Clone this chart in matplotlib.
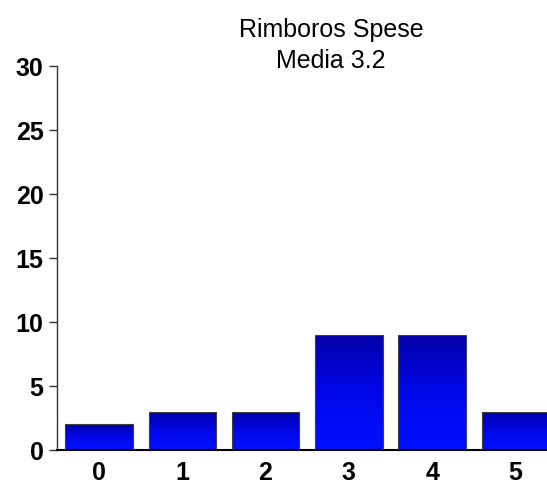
#!/usr/bin/env python3

import matplotlib
matplotlib.use("Agg")
import matplotlib.pyplot as plt
import numpy as np
from matplotlib.colors import LinearSegmentedColormap


categories = ["0", "1", "2", "3", "4", "5"]
counts = [2, 3, 3, 9, 9, 3]
y_ticks = [0, 5, 10, 15, 20, 25, 30]
title_lines = ["Rimboros Spese", "Media 3.2"]


def main():
	plt.rcParams['font.family'] = ['Liberation Sans', 'DejaVu Sans']

	fig = plt.figure(figsize=(5.47, 4.84), dpi=100)
	fig.patch.set_facecolor("white")

	ax = fig.add_axes([0.1037, 0.0702, 0.8963, 0.7934])
	ax.patch.set_alpha(0)

	x = np.arange(len(categories))
	bars = ax.bar(x, counts, width=0.81, color="none", edgecolor="#404040", linewidth=0.8, zorder=3)

	# vertical gradient, dark navy at top to bright blue at bottom
	cmap = LinearSegmentedColormap.from_list("bluegrad", ["#0010ff", "#0008e8", "#0000a8"])
	grad = np.linspace(0, 1, 256).reshape(-1, 1)
	for b in bars:
		x0, y0 = b.get_x(), b.get_y()
		w, h = b.get_width(), b.get_height()
		im = ax.imshow(grad, cmap=cmap, aspect="auto", origin="lower",
			extent=[x0, x0 + w, y0, y0 + h], zorder=2)
		im.set_clip_path(b)

	ax.set_xlim(-0.507, 5.379)
	ax.set_ylim(0, 30)
	ax.set_xticks(x)
	ax.set_xticklabels(categories)
	ax.set_yticks(y_ticks)

	for lab in ax.get_xticklabels() + ax.get_yticklabels():
		lab.set_fontsize(18)
		lab.set_fontweight("bold")

	ax.tick_params(axis="x", length=0, pad=8)
	ax.tick_params(axis="y", length=5.5, width=1, pad=4, color="#333333")

	ax.spines["top"].set_visible(False)
	ax.spines["right"].set_visible(False)
	ax.spines["left"].set_color("#333333")
	ax.spines["left"].set_linewidth(1)
	ax.spines["bottom"].set_color("black")
	ax.spines["bottom"].set_linewidth(1.5)

	fig.text(0.605, 1 - 37 / 484, title_lines[0], fontsize=18, ha="center", va="baseline")
	fig.text(0.605, 1 - 68 / 484, title_lines[1], fontsize=18, ha="center", va="baseline")

	fig.savefig("out.png", dpi=100)


if __name__ == '__main__':
	main()
